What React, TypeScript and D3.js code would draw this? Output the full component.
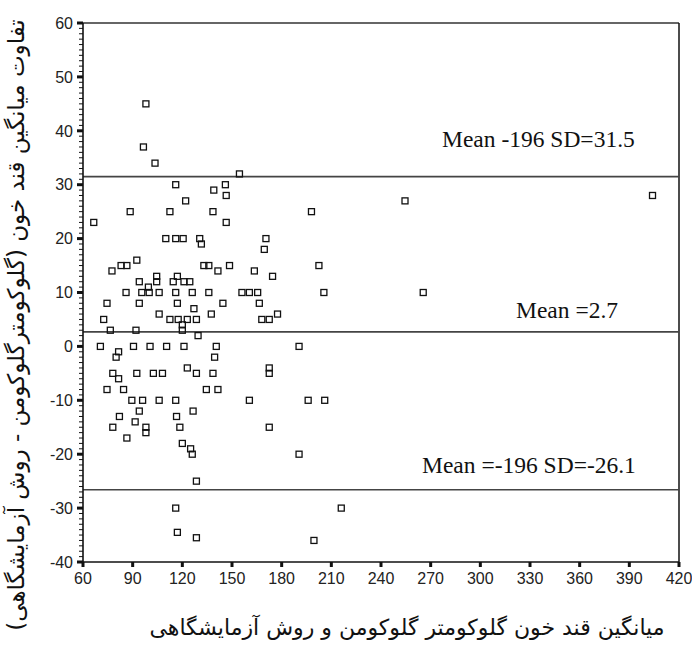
import * as d3 from 'd3';

// mean of both methods (x) and their difference (y)
const pointMeans = [
    98, 96.5, 103.5, 154.5, 116, 139, 146, 146.5, 122,
    88.5, 112.5, 138.5, 66.5, 146.5,
    110, 116, 120.5, 130.5, 131.5,
    92.5, 83, 86.5, 133, 136, 148.5,
    77.5, 141.5, 163.5, 104.5, 117,
    94, 104.5, 114.5, 121, 124.5, 99.5,
    86, 95.5, 100, 106, 116, 126, 136, 156, 160.5, 165.5,
    74.5, 94, 117, 144.5, 166.5, 127, 106, 137.5,
    72.5, 112.5, 117.5, 123, 128.5, 168, 120, 76.5, 92, 120, 129.5,
    254.5, 198, 170.5, 169.5, 202.5, 174.5, 205.5, 265.5, 177.5, 172.5, 404,
    70.5, 90.5, 100.5, 110.5, 121, 140.5, 190.5,
    81.5, 80, 139.5, 123, 172.5,
    78, 92.5, 102.5, 108, 128.5, 138.5, 172.5, 81.5,
    74.5, 84.5, 134.5, 141.5,
    89.5, 96, 106, 116, 160.5, 196, 206,
    94, 126.5, 82, 116.5, 91.5,
    78, 98, 118.5, 172.5, 98, 86.5, 120, 125, 126, 190.5,
    128.5, 116, 216, 117, 128.5, 199.5
];

const pointDiffs = [
    45, 37, 34, 32, 30, 29, 30, 28, 27,
    25, 25, 25, 23, 23,
    20, 20, 20, 20, 19,
    16, 15, 15, 15, 15, 15,
    14, 14, 14, 13, 13,
    12, 12, 12, 12, 12, 11,
    10, 10, 10, 10, 10, 10, 10, 10, 10, 10,
    8, 8, 8, 8, 8, 7, 6, 6,
    5, 5, 5, 5, 5, 5, 4, 3, 3, 3, 2,
    27, 25, 20, 18, 15, 13, 10, 10, 6, 5, 28,
    0, 0, 0, 0, 0, 0, 0,
    -1, -2, -2, -4, -4,
    -5, -5, -5, -5, -5, -5, -5, -6,
    -8, -8, -8, -8,
    -10, -10, -10, -10, -10, -10, -10,
    -12, -12, -13, -13, -14,
    -15, -15, -15, -15, -16, -17, -18, -19, -20, -20,
    -25, -30, -30, -34.5, -35.5, -36
];

const xTicks = [60, 90, 120, 150, 180, 210, 240, 270, 300, 330, 360, 390, 420];
const yTicks = [60, 50, 40, 30, 20, 10, 0, -10, -20, -30, -40];

// reference lines: upper limit, mean, lower limit
const refValues = [31.5, 2.7, -26.6];
const refLabels = ['Mean -196 SD=31.5', 'Mean =2.7', 'Mean =-196 SD=-26.1'];

const xTitle = 'میانگین قند خون گلوکومتر گلوکومن و روش آزمایشگاهی';
const yTitle = 'تفاوت میانگین قند خون (گلوکومترگلوکومن - روش آزمایشگاهی)';

const W = 692;
const H = 646;
const left = 83, right = 679, top = 23, bottom = 562;

export default function App() {
    const x = d3.scaleLinear().domain([60, 420]).range([left, right]);
    const y = d3.scaleLinear().domain([-40, 60]).range([bottom, top]);
    const minorTicks = d3.range(-40, 61, 1).filter(v => v % 10 !== 0);

    const labelPos = [
        { x: 442, y: 147 },
        { x: 516, y: 318 },
        { x: 422, y: 473 }
    ];

    const tickFont = { fontFamily: '"Liberation Sans", Arial, sans-serif', fontSize: 16, fill: '#222' };

    return (
        <div style={{ position: 'absolute', left: 0, top: 0 }}>
            <svg width={W} height={H} style={{ display: 'block', background: '#fff' }}>
                {/* frame top and right */}
                <line x1={left} x2={right} y1={top} y2={top} stroke="#333" strokeWidth={1.5} />
                <line x1={right} x2={right} y1={top} y2={bottom} stroke="#111" strokeWidth={1.5} />

                {/* reference lines */}
                {refValues.map((v, i) => (
                    <line key={'r' + i} x1={left} x2={right} y1={y(v)} y2={y(v)} stroke="#444" strokeWidth={1.6} />
                ))}
                {refLabels.map((t, i) => (
                    <text key={'rl' + i} x={labelPos[i].x} y={labelPos[i].y}
                        style={{ fontFamily: '"Liberation Serif", "Times New Roman", serif', fontSize: 23.5, fill: '#111' }}>
                        {t}
                    </text>
                ))}

                {/* points */}
                {pointMeans.map((m, i) => (
                    <rect key={'p' + i} x={x(m) - 3} y={y(pointDiffs[i]) - 3} width={6} height={6}
                        fill="none" stroke="#111" strokeWidth={1.3} />
                ))}

                {/* y axis */}
                <line x1={left} x2={left} y1={top} y2={bottom} stroke="#111" strokeWidth={1.6} />
                {minorTicks.map(v => (
                    <line key={'m' + v} x1={left - 4} x2={left} y1={y(v)} y2={y(v)} stroke="#111" strokeWidth={1} />
                ))}
                {yTicks.map(v => (
                    <g key={'y' + v}>
                        <line x1={left - 6} x2={left} y1={y(v)} y2={y(v)} stroke="#111" strokeWidth={3} />
                        <text x={left - 10} y={y(v)} dy="0.36em" textAnchor="end" style={tickFont}>{v}</text>
                    </g>
                ))}

                {/* x axis */}
                <line x1={left} x2={right} y1={bottom} y2={bottom} stroke="#111" strokeWidth={1.6} />
                {xTicks.map(v => (
                    <g key={'x' + v}>
                        <line x1={x(v)} x2={x(v)} y1={bottom} y2={bottom + 5} stroke="#111" strokeWidth={3} />
                        <text x={x(v)} y={584} textAnchor="middle" style={tickFont}>{v}</text>
                    </g>
                ))}

                {/* axis titles */}
                <text x={407} y={635} textAnchor="middle" direction="rtl"
                    style={{ fontFamily: '"DejaVu Sans", sans-serif', fontSize: 22, fill: '#111' }}>
                    {xTitle}
                </text>
                <text transform={`translate(24, 325) rotate(-90)`} textAnchor="middle" direction="rtl"
                    style={{ fontFamily: '"DejaVu Sans", sans-serif', fontSize: 23, fill: '#111' }}>
                    {yTitle}
                </text>
            </svg>
        </div>
    );
}
